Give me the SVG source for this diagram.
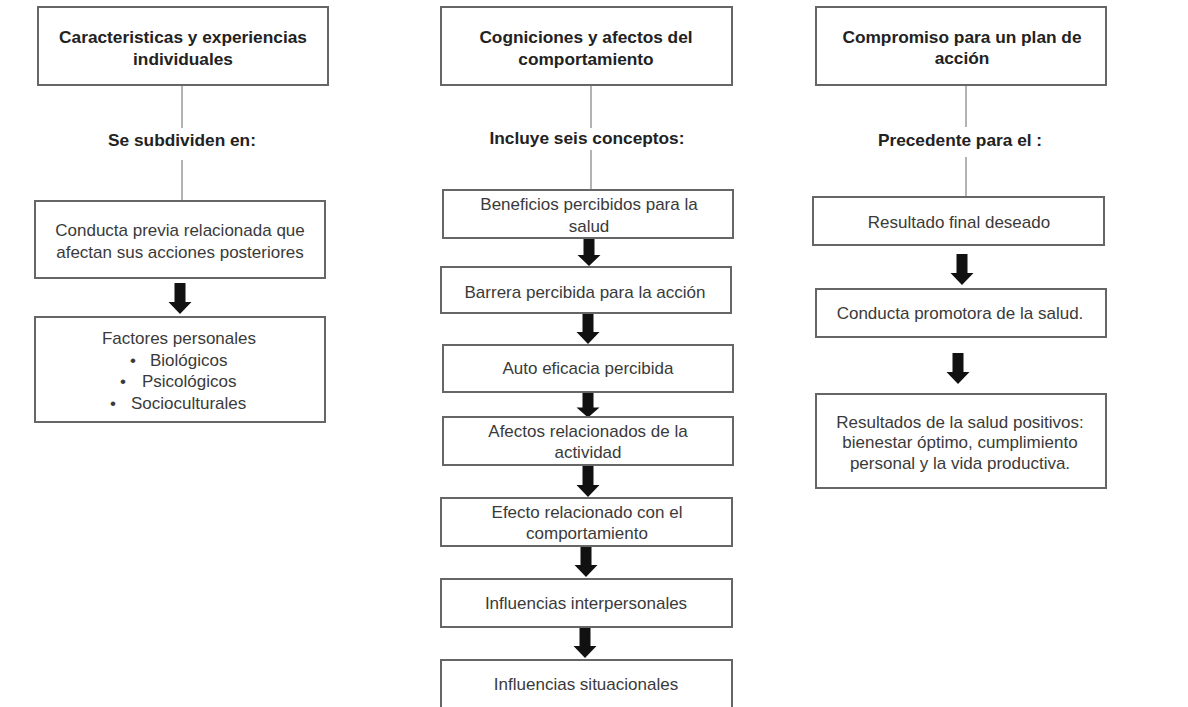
<svg xmlns="http://www.w3.org/2000/svg" width="1188" height="707" viewBox="0 0 1188 707">
<style>
.box{fill:#fff;stroke:#666;stroke-width:2}
.t{font-family:"Liberation Sans",Arial,sans-serif;font-size:17px;fill:#3a3a3a;text-anchor:middle}
.b{font-family:"Liberation Sans",Arial,sans-serif;font-size:17.3px;font-weight:bold;fill:#222;text-anchor:middle}
.ln{stroke:#9a9a9a;stroke-width:1.5;fill:none}
.ar{fill:#111}
</style>
<defs>
<path id="arr" d="M-5.5,0 h11 v19 h6 l-11.5,12 l-11.5,-12 h6 z"/>
</defs>
<rect width="1188" height="707" fill="#fff"/>

<g id="connectors">
<line class="ln" x1="182" y1="85" x2="182" y2="128"/>
<line class="ln" x1="182" y1="160" x2="182" y2="201"/>
<line class="ln" x1="591" y1="85" x2="591" y2="128"/>
<line class="ln" x1="591" y1="150" x2="591" y2="190"/>
<line class="ln" x1="966" y1="85" x2="966" y2="127"/>
<line class="ln" x1="966" y1="157" x2="966" y2="197"/>
<use href="#arr" class="ar" transform="translate(180,283)"/>
<use href="#arr" class="ar" transform="translate(589,238) scale(1,0.9)"/>
<use href="#arr" class="ar" transform="translate(588,313)"/>
<use href="#arr" class="ar" transform="translate(588,392) scale(1,0.82)"/>
<use href="#arr" class="ar" transform="translate(588,466)"/>
<use href="#arr" class="ar" transform="translate(586,546)"/>
<use href="#arr" class="ar" transform="translate(585,627)"/>
<use href="#arr" class="ar" transform="translate(962,254)"/>
<use href="#arr" class="ar" transform="translate(958,353)"/>
</g>

<g id="labels">
<text class="b" x="182" y="146">Se subdividen en:</text>
<text class="b" x="587" y="144">Incluye seis conceptos:</text>
<text class="b" x="960" y="146">Precedente para el :</text>
</g>

<g id="n-caracteristicas">
<rect class="box" x="38" y="7" width="290" height="78"/>
<text class="b" x="183" y="43">Caracteristicas y experiencias</text>
<text class="b" x="183" y="65">individuales</text>
</g>
<g id="n-conducta-previa">
<rect class="box" x="35" y="201" width="290" height="77"/>
<text class="t" x="180" y="236">Conducta previa relacionada que</text>
<text class="t" x="180" y="258">afectan sus acciones posteriores</text>
</g>
<g id="n-factores">
<rect class="box" x="35" y="317" width="290" height="105"/>
<text class="t" x="179" y="344">Factores personales</text>
<text class="t" style="text-anchor:start"><tspan x="130" y="366">•</tspan><tspan x="150" y="366">Biológicos</tspan><tspan x="120" y="387">•</tspan><tspan x="142" y="387">Psicológicos</tspan><tspan x="110" y="409">•</tspan><tspan x="131" y="409">Socioculturales</tspan></text>
</g>

<g id="n-cogniciones">
<rect class="box" x="441" y="7" width="291" height="78"/>
<text class="b" x="586" y="43">Cogniciones y afectos del</text>
<text class="b" x="586" y="65">comportamiento</text>
</g>
<g id="n-beneficios">
<rect class="box" x="443" y="190" width="290" height="48"/>
<text class="t" x="589" y="210">Beneficios percibidos para la</text>
<text class="t" x="589" y="232">salud</text>
</g>
<g id="n-barrera">
<rect class="box" x="441" y="267" width="290" height="46"/>
<text class="t" x="585" y="298">Barrera percibida para la acción</text>
</g>
<g id="n-autoeficacia">
<rect class="box" x="443" y="345" width="290" height="47"/>
<text class="t" x="588" y="374">Auto eficacia percibida</text>
</g>
<g id="n-afectos">
<rect class="box" x="443" y="417" width="290" height="48"/>
<text class="t" x="588" y="437">Afectos relacionados de la</text>
<text class="t" x="588" y="458">actividad</text>
</g>
<g id="n-efecto">
<rect class="box" x="441" y="498" width="291" height="48"/>
<text class="t" x="587" y="518">Efecto relacionado con el</text>
<text class="t" x="587" y="539">comportamiento</text>
</g>
<g id="n-interpersonales">
<rect class="box" x="441" y="579" width="291" height="48"/>
<text class="t" x="586" y="609">Influencias interpersonales</text>
</g>
<g id="n-situacionales">
<rect class="box" x="441" y="660" width="291" height="50"/>
<text class="t" x="586" y="690">Influencias situacionales</text>
</g>

<g id="n-compromiso">
<rect class="box" x="816" y="7" width="290" height="78"/>
<text class="b" x="962" y="43">Compromiso para un plan de</text>
<text class="b" x="962" y="64">acción</text>
</g>
<g id="n-resultado-final">
<rect class="box" x="813" y="197" width="291" height="48"/>
<text class="t" x="959" y="228">Resultado final deseado</text>
</g>
<g id="n-conducta-promotora">
<rect class="box" x="816" y="289" width="290" height="48"/>
<text class="t" x="960" y="319">Conducta promotora de la salud.</text>
</g>
<g id="n-resultados-salud">
<rect class="box" x="816" y="394" width="290" height="94"/>
<text class="t" x="960" y="428">Resultados de la salud positivos:</text>
<text class="t" x="960" y="448">bienestar óptimo, cumplimiento</text>
<text class="t" x="960" y="469">personal y la vida productiva.</text>
</g>
</svg>
